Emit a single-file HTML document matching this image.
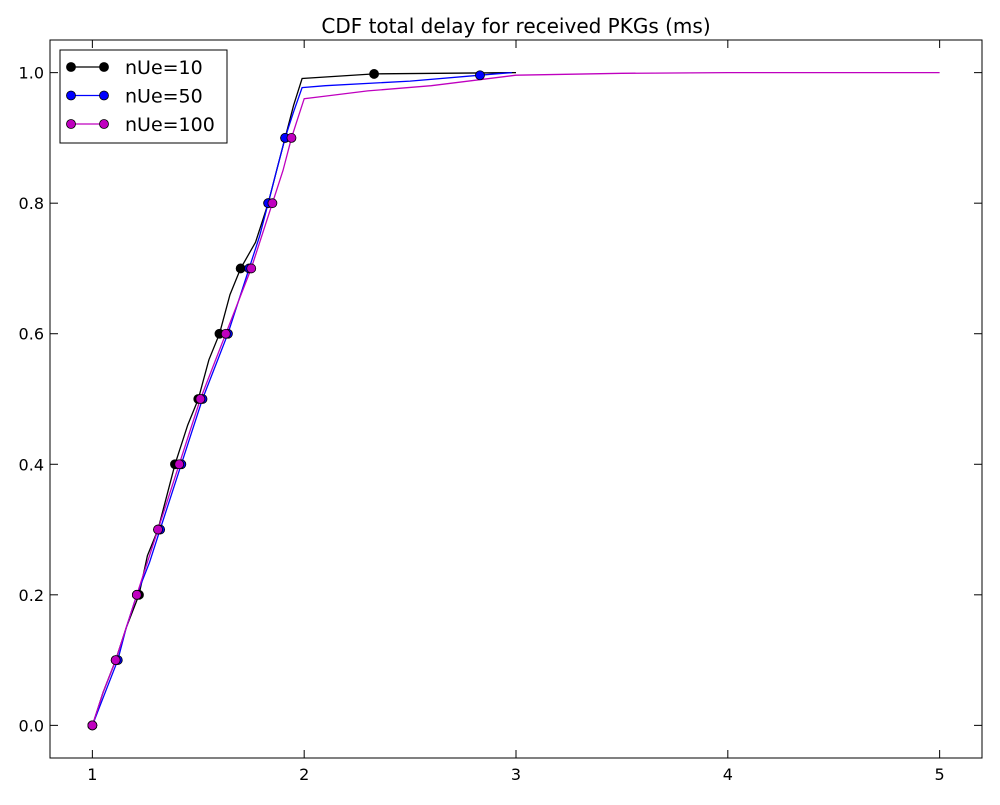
<!DOCTYPE html>
<html><head><meta charset="utf-8"><style>
body{margin:0;background:#fff;}
svg text{font-family:"DejaVu Sans","Liberation Sans",sans-serif;}
</style></head><body>
<svg id="chart" width="1000" height="800" xmlns="http://www.w3.org/2000/svg">
<rect width="1000" height="800" fill="#fff"/>
<text x="516" y="33" text-anchor="middle" font-size="20">CDF total delay for received PKGs (ms)</text>
<g id="axes"></g>
<g id="series"></g>
<g id="legend"></g>
</svg>
<script>
const xTicks=[1,2,3,4,5];
const yTicks=[0.0,0.2,0.4,0.6,0.8,1.0];
const seriesNames=['nUe=10','nUe=50','nUe=100'];
const seriesColors=['#000000','#0000ff','#bf00bf'];
const lineX10=[1,1.05,1.11,1.16,1.22,1.26,1.31,1.35,1.39,1.45,1.5,1.55,1.6,1.65,1.7,1.77,1.83,1.87,1.91,1.95,1.99,2.33,3.0];
const lineY10=[0,0.05,0.1,0.15,0.2,0.26,0.3,0.35,0.4,0.46,0.5,0.56,0.6,0.66,0.7,0.74,0.8,0.85,0.9,0.95,0.991,0.998,1.0];
const lineX50=[1,1.06,1.12,1.16,1.21,1.27,1.32,1.37,1.42,1.47,1.52,1.58,1.64,1.69,1.74,1.79,1.83,1.87,1.91,1.95,1.99,2.1,2.5,2.83,2.98];
const lineY50=[0,0.05,0.1,0.15,0.2,0.25,0.3,0.35,0.4,0.45,0.5,0.55,0.6,0.65,0.7,0.75,0.8,0.85,0.9,0.94,0.977,0.98,0.987,0.996,1.0];
const lineX100=[1,1.05,1.11,1.16,1.21,1.26,1.31,1.36,1.41,1.46,1.51,1.57,1.63,1.69,1.75,1.8,1.85,1.9,1.94,1.97,2.0,2.1,2.3,2.6,3.0,3.5,4.0,5.0];
const lineY100=[0,0.05,0.1,0.15,0.2,0.25,0.3,0.35,0.4,0.45,0.5,0.55,0.6,0.65,0.7,0.75,0.8,0.85,0.9,0.93,0.96,0.964,0.972,0.98,0.996,0.999,1.0,1.0];
const markX10=[1,1.11,1.22,1.31,1.39,1.5,1.6,1.7,1.83,1.91,2.33];
const markY10=[0,0.1,0.2,0.3,0.4,0.5,0.6,0.7,0.8,0.9,0.998];
const markX50=[1,1.12,1.21,1.32,1.42,1.52,1.64,1.74,1.83,1.91,2.83];
const markY50=[0,0.1,0.2,0.3,0.4,0.5,0.6,0.7,0.8,0.9,0.996];
const markX100=[1,1.11,1.21,1.31,1.41,1.51,1.63,1.75,1.85,1.94];
const markY100=[0,0.1,0.2,0.3,0.4,0.5,0.6,0.7,0.8,0.9];

const L=50,R=982,T=40,B=758,xmin=0.8,xmax=5.2,ymin=-0.05,ymax=1.05;
const sx=v=>L+(v-xmin)/(xmax-xmin)*(R-L);
const sy=v=>B-(v-ymin)/(ymax-ymin)*(B-T);
const NS='http://www.w3.org/2000/svg';
function mk(tag,attrs,parent){const e=document.createElementNS(NS,tag);for(const k in attrs)e.setAttribute(k,attrs[k]);parent.appendChild(e);return e;}
const axes=document.getElementById('axes');
xTicks.forEach(t=>{
  const x=sx(t);
  const a=mk('line',{x1:x,x2:x,y1:B,y2:B-8,stroke:'#000'},axes);
  
  
  mk('line',{x1:x,x2:x,y1:T,y2:T+8,stroke:'#000'},axes);
  const tx=mk('text',{x:x,y:B+22,'text-anchor':'middle','font-size':'16'},axes);
  tx.textContent=String(t);
  
  
});
yTicks.forEach(t=>{
  const y=sy(t);
  const a=mk('line',{x1:L,x2:L+8,y1:y,y2:y,stroke:'#000'},axes);
  
  
  mk('line',{x1:R,x2:R-8,y1:y,y2:y,stroke:'#000'},axes);
  const tx=mk('text',{x:L-6,y:y+6,'text-anchor':'end','font-size':'16'},axes);
  tx.textContent=t.toFixed(1);
  
  
});
const frame=mk('rect',{x:L,y:T,width:R-L,height:B-T,fill:'none',stroke:'#000','stroke-width':1},axes);



const sg=document.getElementById('series');
const lines=[[lineX10,lineY10,markX10,markY10],[lineX50,lineY50,markX50,markY50],[lineX100,lineY100,markX100,markY100]];
lines.forEach((s,i)=>{
  const pts=s[0].map((x,j)=>sx(x).toFixed(1)+','+sy(s[1][j]).toFixed(1)).join(' ');
  const pl=mk('polyline',{points:pts,fill:'none',stroke:seriesColors[i],'stroke-width':1.3},sg);
  
  
});
lines.forEach((s,i)=>{
  s[2].forEach((x,j)=>{
    const c=mk('circle',{cx:sx(x),cy:sy(s[3][j]),r:4.5,fill:seriesColors[i],stroke:'#000','stroke-width':0.8},sg);
    
    
  });
});

const lg=document.getElementById('legend');
const box=mk('rect',{x:60,y:50,width:167,height:93,fill:'#fff',stroke:'#000'},lg);


seriesNames.forEach((n,i)=>{
  const y=67+i*28.5;
  const g=mk('g',{},lg);
  
  
  mk('line',{x1:71,x2:104,y1:y,y2:y,stroke:seriesColors[i],'stroke-width':1.3},g);
  mk('circle',{cx:71,cy:y,r:4.5,fill:seriesColors[i],stroke:'#000','stroke-width':0.8},g);
  mk('circle',{cx:104,cy:y,r:4.5,fill:seriesColors[i],stroke:'#000','stroke-width':0.8},g);
  const t=mk('text',{x:125,y:y+7,'font-size':'19'},g);
  t.textContent=n;
});
</script>
</body></html>
